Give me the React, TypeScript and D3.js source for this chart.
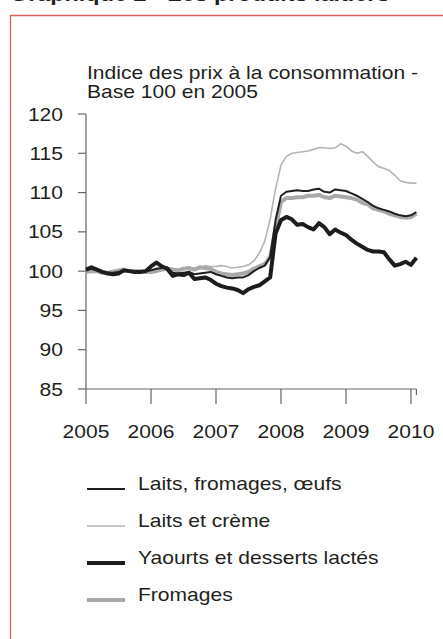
import React from "react";
import * as d3 from "d3";

const months: number[] = d3.range(0, 62);
const yearLabels: string[] = ["2005", "2006", "2007", "2008", "2009", "2010"];
const yTicks: number[] = [85, 90, 95, 100, 105, 110, 115, 120];

const laitsFromagesOeufs: number[] = [
  100.1, 100.3, 100.1, 99.9, 99.8, 99.8, 99.9, 100.0, 100.0, 99.9, 100.0, 100.0,
  100.1, 100.3, 100.4, 100.5, 99.8, 99.7, 99.8, 99.9, 99.6, 99.7, 99.8, 99.9,
  99.6, 99.4, 99.2, 99.1, 99.2, 99.2, 99.5, 100.0, 100.4, 100.7, 101.8, 106.5,
  109.6, 110.1, 110.2, 110.3, 110.2, 110.2, 110.4, 110.5, 110.1, 110.0, 110.4, 110.3,
  110.2, 109.9, 109.6, 109.2, 108.8, 108.3, 108.0, 107.8, 107.6, 107.3, 107.1, 107.0,
  107.1, 107.5,
];
const laitsEtCreme: number[] = [
  100.0, 99.9, 99.9, 99.8, 99.9, 100.1, 100.0, 100.1, 100.0, 100.0, 99.9, 100.0,
  100.0, 100.2, 100.3, 100.4, 100.3, 100.2, 100.3, 100.2, 100.1, 100.3, 100.7, 100.6,
  100.6, 100.7, 100.6, 100.4, 100.5, 100.6, 100.8, 101.3, 102.3, 103.8, 106.6, 110.5,
  113.5, 114.6, 115.0, 115.1, 115.2, 115.3, 115.5, 115.7, 115.7, 115.6, 115.7, 116.2,
  115.9, 115.3, 115.0, 115.2, 114.6, 113.9, 113.3, 113.1, 112.8, 112.2, 111.5, 111.3,
  111.2, 111.2,
];
const yaourts: number[] = [
  100.2, 100.5, 100.2, 99.9, 99.7, 99.6, 99.7, 100.1, 100.0, 99.9, 99.9, 100.0,
  100.6, 101.1, 100.6, 100.3, 99.4, 99.6, 99.5, 99.8, 99.0, 99.1, 99.2, 98.9,
  98.4, 98.1, 97.9, 97.8, 97.6, 97.2, 97.7, 98.0, 98.2, 98.7, 99.2, 104.8,
  106.5, 106.9, 106.6, 105.9, 106.0, 105.6, 105.3, 106.1, 105.6, 104.7, 105.3, 104.9,
  104.6, 104.0, 103.5, 103.1, 102.7, 102.5, 102.5, 102.4, 101.5, 100.7, 100.9, 101.2,
  100.8, 101.7,
];
const fromages: number[] = [
  99.9, 100.0, 100.0, 99.8, 99.8, 99.9, 100.1, 100.2, 100.0, 100.0, 100.0, 99.9,
  99.9, 100.0, 100.2, 100.3, 100.2, 100.1, 100.3, 100.4, 100.2, 100.5, 100.4, 100.3,
  99.9, 99.7, 99.6, 99.5, 99.6, 99.7, 99.9, 100.3, 100.6, 100.9, 101.8, 105.5,
  108.8, 109.3, 109.3, 109.4, 109.4, 109.6, 109.6, 109.7, 109.4, 109.3, 109.6, 109.5,
  109.4, 109.3, 109.1, 108.7, 108.5, 108.0, 107.8, 107.6, 107.3, 107.1, 106.9, 106.8,
  106.9, 107.3,
];

const seriesNames: string[] = [
  "Laits, fromages, œufs",
  "Laits et crème",
  "Yaourts et desserts lactés",
  "Fromages",
];

const W = 443;
const H = 639;
const SX = 1.17;
const FONT = "'Liberation Sans', Arial, sans-serif";
const TXT = "#231f20";

const styles = [
  { color: "#231f20", width: 2 },
  { color: "#b5b5b5", width: 1.6 },
  { color: "#1c1c1c", width: 4 },
  { color: "#a9a9a9", width: 4 },
];

function T(props: { x: number; y: number; anchor?: string; children: any; size?: number; weight?: string }) {
  const { x, y, anchor = "start", children, size = 18, weight = "normal" } = props;
  return (
    <text
      transform={`translate(${x},${y}) scale(${SX},1)`}
      textAnchor={anchor}
      fontFamily={FONT}
      fontSize={size}
      fontWeight={weight}
      fill={TXT}
    >
      {children}
    </text>
  );
}

export default function App() {
  const x = d3.scaleLinear().domain([0, 61]).range([86, 86 + (61 * 65) / 12]);
  const y = d3.scaleLinear().domain([85, 120]).range([389, 114]);
  const line = d3
    .line<number>()
    .x((_, i) => x(months[i]))
    .y((v) => y(v))
    .curve(d3.curveLinear);

  const data = [laitsFromagesOeufs, laitsEtCreme, yaourts, fromages];
  const drawOrder = [1, 3, 0, 2];
  const axisColor = "#666";
  const legendY = [489, 526, 563, 600];

  return (
    <svg
      width={W}
      height={H}
      style={{ position: "absolute", left: 0, top: 0, background: "#fff" }}
    >
      <rect width={W} height={H} fill="#fff" />
      <T x={10} y={1} size={20} weight="bold">
        Graphique 2 - Les produits laitiers
      </T>
      <path d={`M10.5,${H + 5} V15.5 H${W + 5}`} fill="none" stroke="#d9605a" strokeWidth={1.3} />

      <T x={87} y={78.5}>Indice des prix à la consommation -</T>
      <T x={87} y={98}>Base 100 en 2005</T>

      {/* y axis */}
      <line x1={86} x2={86} y1={y(120)} y2={y(85)} stroke={axisColor} strokeWidth={1.2} />
      {yTicks.map((t) => (
        <g key={t}>
          <line x1={78} x2={86} y1={y(t)} y2={y(t)} stroke={axisColor} strokeWidth={1.2} />
          <T x={63} y={y(t) + 6.5} anchor="end">
            {String(t)}
          </T>
        </g>
      ))}

      {/* x axis */}
      <line x1={86} x2={x(61)} y1={389} y2={389} stroke={axisColor} strokeWidth={1.2} />
      {yearLabels.map((lab, k) => (
        <g key={lab}>
          <line x1={x(k * 12)} x2={x(k * 12)} y1={389} y2={404} stroke={axisColor} strokeWidth={1.2} />
          <T x={x(k * 12)} y={438} anchor="middle">
            {lab}
          </T>
        </g>
      ))}
      <line x1={x(61)} x2={x(61)} y1={389} y2={395} stroke={axisColor} strokeWidth={1.2} />

      {/* series */}
      {drawOrder.map((s) => (
        <path
          key={s}
          d={line(data[s]) || ""}
          fill="none"
          stroke={styles[s].color}
          strokeWidth={styles[s].width}
          strokeLinejoin="round"
        />
      ))}

      {/* legend */}
      {seriesNames.map((name, s) => (
        <g key={name}>
          <line
            x1={87}
            x2={125}
            y1={legendY[s]}
            y2={legendY[s]}
            stroke={styles[s].color}
            strokeWidth={styles[s].width}
          />
          <T x={138} y={legendY[s] + 1}>
            {name}
          </T>
        </g>
      ))}
    </svg>
  );
}
